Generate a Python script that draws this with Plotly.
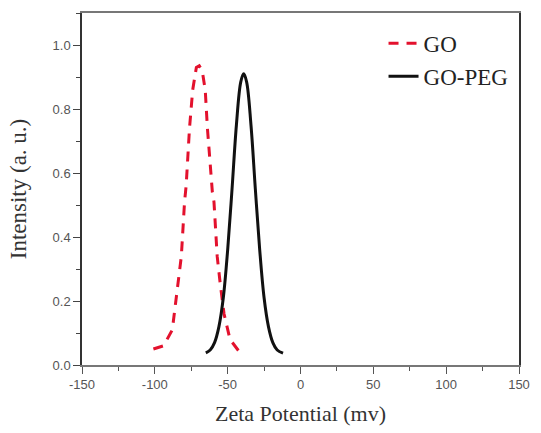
import plotly.graph_objects as go

# GO (red dashed)
go_x = [-101, -94, -88, -84.5, -81.8, -79.6, -78.5, -76.2, -74, -71.5, -69.5, -67.5, -65.4, -63.9, -62, -60.5, -59.4, -57.2, -55, -52.5, -48.4, -42.6]
go_y = [0.05, 0.06, 0.11, 0.24, 0.34, 0.51, 0.56, 0.74, 0.86, 0.93, 0.935, 0.92, 0.86, 0.74, 0.64, 0.54, 0.51, 0.34, 0.25, 0.16, 0.08, 0.045]

# GO-PEG (black solid)
peg_x = [-65, -62, -59, -56, -53, -50, -47, -44, -41, -39, -37, -34, -31, -28, -25, -22, -19, -16, -12]
peg_y = [0.038, 0.047, 0.07, 0.12, 0.21, 0.36, 0.55, 0.75, 0.885, 0.91, 0.885, 0.75, 0.55, 0.36, 0.21, 0.12, 0.07, 0.047, 0.037]

x_ticks = [-150, -100, -50, 0, 50, 100, 150]
x_labels = ["-150", "-100", "-50", "0", "50", "100", "150"]
y_ticks = [0.0, 0.2, 0.4, 0.6, 0.8, 1.0]
y_labels = ["0.0", "0.2", "0.4", "0.6", "0.8", "1.0"]

serif = "Liberation Serif, Times New Roman, serif"
sans = "Liberation Sans, Arial, sans-serif"

fig = go.Figure()
fig.add_trace(go.Scatter(x=go_x, y=go_y, mode="lines", name="GO",
                         line=dict(color="#e3112d", width=3, dash="10px,8px")))
fig.add_trace(go.Scatter(x=peg_x, y=peg_y, mode="lines", name="GO-PEG",
                         line=dict(color="#111111", width=3, shape="spline")))

fig.update_layout(
    width=541, height=433,
    margin=dict(l=82, r=14, t=11, b=64),
    paper_bgcolor="white", plot_bgcolor="white",
    showlegend=True,
    legend=dict(x=0.69, y=0.975, xanchor="left", yanchor="top",
                font=dict(family=serif, size=23, color="#222222"),
                bgcolor="rgba(0,0,0,0)", tracegroupgap=0),
    xaxis=dict(range=[-150, 150], tickvals=x_ticks, ticktext=x_labels, ticks="outside", ticklen=7,
               tickcolor="#555", showgrid=False, zeroline=False,
               showline=True, linecolor="#777", linewidth=1.5, mirror=True,
               tickfont=dict(family=sans, size=13, color="#555"),
               minor=dict(ticks="outside", ticklen=4, dtick=25, tickcolor="#555"),
               title=dict(text="Zeta Potential (mv)", font=dict(family=serif, size=22, color="#333"), standoff=14)),
    yaxis=dict(range=[0, 1.1], tickvals=y_ticks, ticktext=y_labels, ticks="outside", ticklen=7,
               tickcolor="#444", showgrid=False, zeroline=False,
               showline=True, linecolor="#333", linewidth=1.5, mirror=True,
               tickfont=dict(family=sans, size=13, color="#555"),
               minor=dict(ticks="outside", ticklen=4, dtick=0.1, tickcolor="#444"),
               title=dict(text="Intensity (a. u.)", font=dict(family=serif, size=23, color="#333"), standoff=20)),
)

fig.write_html("out.html")
